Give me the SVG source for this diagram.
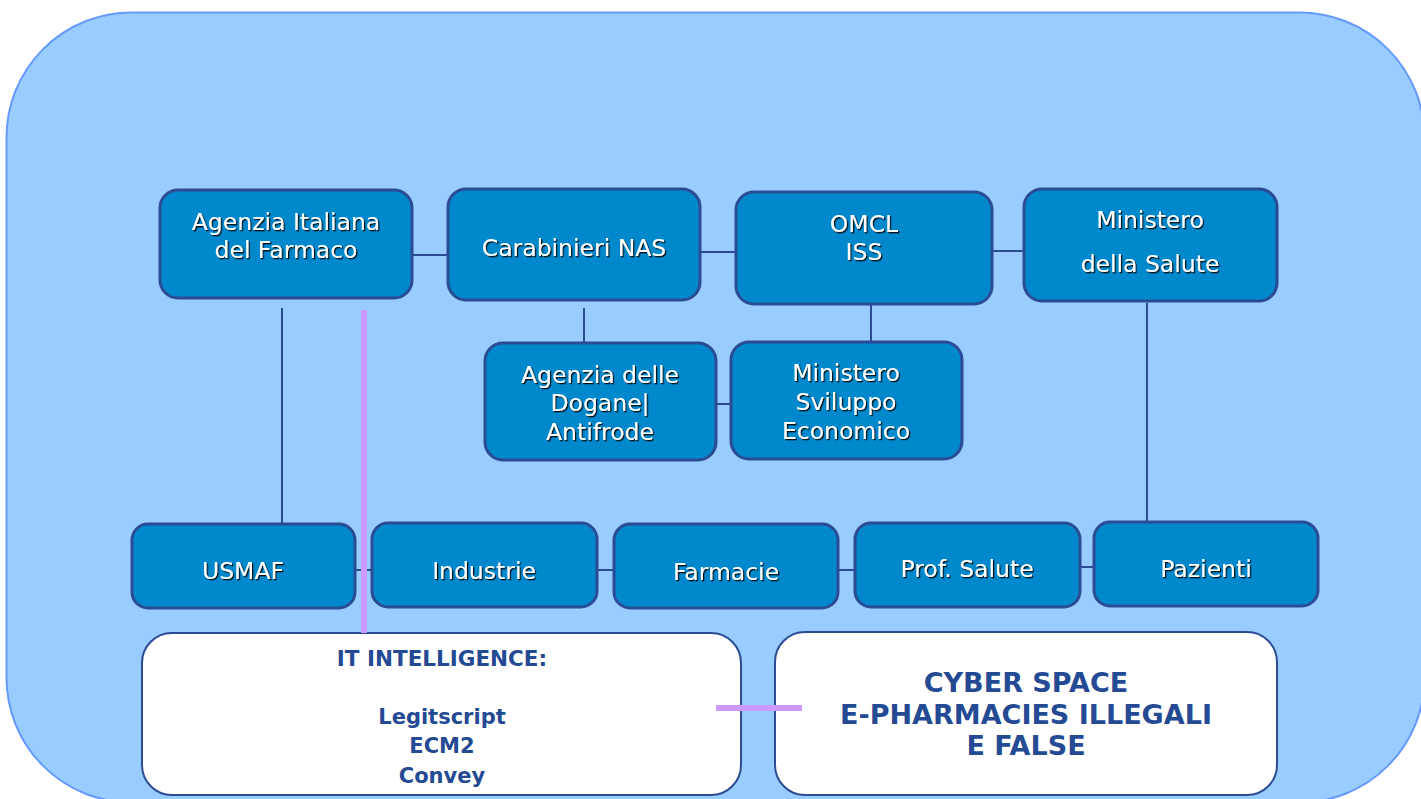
<svg xmlns="http://www.w3.org/2000/svg" width="1421" height="799" viewBox="0 0 1421 799">
<defs>
<filter id="sh" x="-10%" y="-20%" width="120%" height="140%">
<feDropShadow dx="1.3" dy="1.3" stdDeviation="0.3" flood-color="#000" flood-opacity="0.9"/>
</filter>
<style>
.bg{fill:#99CCFF;stroke:#6699FF;stroke-width:2}
.n{fill:#0088CC;stroke:#2B4C95;stroke-width:3}
.w{fill:#FFFFFF;stroke:#2B4C95;stroke-width:2}
.t{font-family:"DejaVu Sans",Verdana,sans-serif;font-size:23.5px;fill:#FFFFFF;text-anchor:middle;filter:url(#sh)}
.b{font-family:"DejaVu Sans","Liberation Sans",sans-serif;font-weight:bold;fill:#254A94;text-anchor:middle}
.c{stroke:#2B4C95;stroke-width:2;fill:none}
.p{stroke:#CC99FF;stroke-width:6;fill:none}
</style>
</defs>
<rect class="bg" x="6.5" y="12.5" width="1418" height="790" rx="125" ry="125"/>
<g id="aifa">
<rect class="n" x="160" y="190" width="252" height="108" rx="18"/>
<text class="t" x="286" y="230">Agenzia Italiana</text>
<text class="t" x="286" y="258">del Farmaco</text>
</g>
<g id="nas">
<rect class="n" x="448" y="189" width="252" height="111" rx="18"/>
<text class="t" x="574" y="256">Carabinieri NAS</text>
</g>
<g id="omcl">
<rect class="n" x="736" y="192" width="256" height="112" rx="18"/>
<text class="t" x="864" y="232">OMCL</text>
<text class="t" x="864" y="260">ISS</text>
</g>
<g id="salute">
<rect class="n" x="1024" y="189" width="253" height="112" rx="18"/>
<text class="t" x="1150" y="228">Ministero</text>
<text class="t" x="1150" y="272">della Salute</text>
</g>
<g id="dogane">
<rect class="n" x="485" y="343" width="231" height="117" rx="18"/>
<text class="t" x="600" y="383">Agenzia delle</text>
<text class="t" x="600" y="411">Dogane|</text>
<text class="t" x="600" y="440">Antifrode</text>
</g>
<g id="mise">
<rect class="n" x="731" y="342" width="231" height="117" rx="18"/>
<text class="t" x="846" y="381">Ministero</text>
<text class="t" x="846" y="410">Sviluppo</text>
<text class="t" x="846" y="439">Economico</text>
</g>
<g id="usmaf">
<rect class="n" x="132" y="524" width="223" height="84" rx="16"/>
<text class="t" x="243" y="579">USMAF</text>
</g>
<g id="industrie">
<rect class="n" x="372" y="523" width="225" height="84" rx="16"/>
<text class="t" x="484" y="579">Industrie</text>
</g>
<g id="farmacie">
<rect class="n" x="614" y="524" width="224" height="84" rx="16"/>
<text class="t" x="726" y="580">Farmacie</text>
</g>
<g id="prof">
<rect class="n" x="855" y="523" width="225" height="84" rx="16"/>
<text class="t" x="967" y="577">Prof. Salute</text>
</g>
<g id="pazienti">
<rect class="n" x="1094" y="522" width="224" height="84" rx="16"/>
<text class="t" x="1206" y="577">Pazienti</text>
</g>
<g id="it">
<rect class="w" x="142" y="633" width="599" height="162" rx="30"/>
<text class="b" x="442" y="666" font-size="21.5">IT INTELLIGENCE:</text>
<text class="b" x="442" y="724" font-size="21">Legitscript</text>
<text class="b" x="442" y="753" font-size="21">ECM2</text>
<text class="b" x="442" y="783" font-size="21">Convey</text>
</g>
<g id="cyber">
<rect class="w" x="775" y="632" width="502" height="163" rx="30"/>
<text class="b" x="1026" y="692" font-size="27">CYBER SPACE</text>
<text class="b" x="1026" y="724" font-size="27">E-PHARMACIES ILLEGALI</text>
<text class="b" x="1026" y="755" font-size="27">E FALSE</text>
</g>
<g id="connectors">
<line class="c" x1="412" y1="255" x2="448" y2="255"/>
<line class="c" x1="700" y1="252" x2="736" y2="252"/>
<line class="c" x1="992" y1="251" x2="1024" y2="251"/>
<line class="c" x1="584" y1="308" x2="584" y2="342"/>
<line class="c" x1="871" y1="305" x2="871" y2="341"/>
<line class="c" x1="716" y1="404" x2="731" y2="404"/>
<line class="c" x1="282" y1="308" x2="282" y2="523"/>
<line class="c" x1="1147" y1="303" x2="1147" y2="521"/>
<line class="c" x1="355" y1="570" x2="372" y2="570"/>
<line class="c" x1="597" y1="570" x2="614" y2="570"/>
<line class="c" x1="838" y1="570" x2="855" y2="570"/>
<line class="c" x1="1080" y1="567" x2="1094" y2="567"/>
<line class="p" x1="364" y1="310" x2="364" y2="633"/>
<line class="p" x1="716" y1="708" x2="802" y2="708"/>
</g>
</svg>
